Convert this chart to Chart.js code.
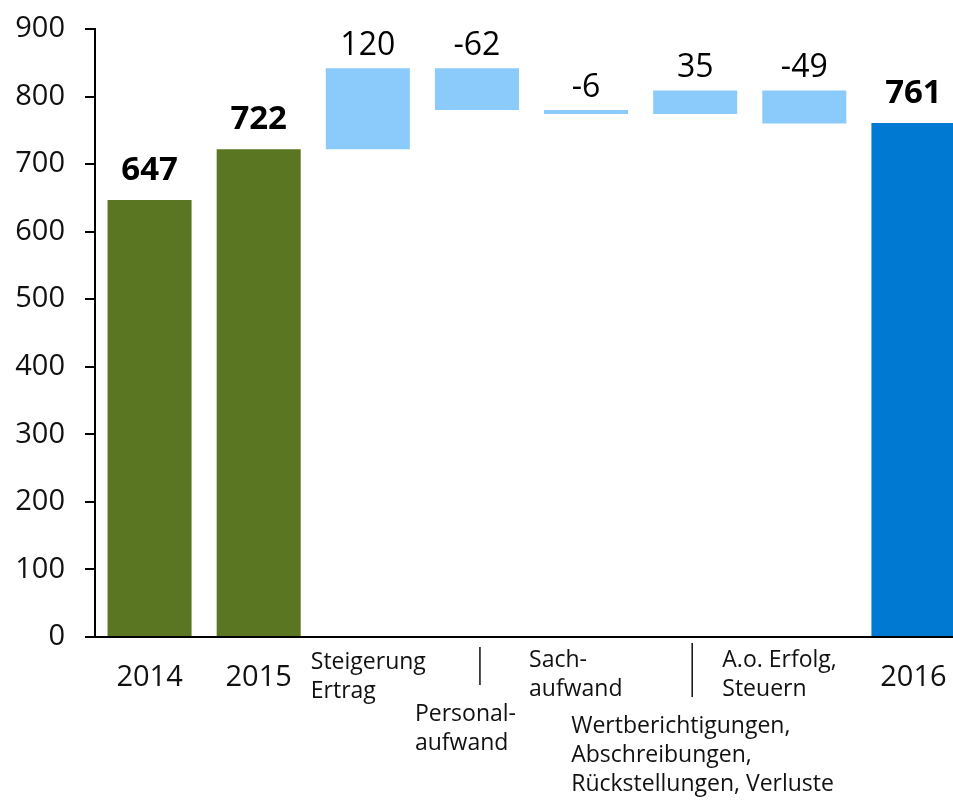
<!DOCTYPE html>
<html lang="de">
<head>
    <meta charset="UTF-8">
    <title>Erfolgsentwicklung</title>
    <script src="https://cdn.jsdelivr.net/npm/chart.js"></script>
    <style>
        body { margin: 0; background: #fff; }
        #wrap { width: 953px; height: 801px; overflow: hidden; }
    </style>
</head>
<body>
    <div id="wrap"><canvas id="waterfall" width="968" height="801"></canvas></div>
    <script>
        const categories = [
            ['2014'],
            ['2015'],
            ['Steigerung', 'Ertrag'],
            ['Personal-', 'aufwand'],
            ['Sach-', 'aufwand'],
            ['Wertberichtigungen,', 'Abschreibungen,', 'Rückstellungen, Verluste'],
            ['A.o. Erfolg,', 'Steuern'],
            ['2016']
        ];
        const barStart = [0, 0, 722, 780, 774, 774, 760, 0];
        const barEnd = [647, 722, 842, 842, 780, 809, 809, 761];
        const valueLabels = ['647', '722', '120', '-62', '-6', '35', '-49', '761'];
        const yTicks = [0, 100, 200, 300, 400, 500, 600, 700, 800, 900];

        const FONT = '"Open Sans", "Noto Sans", sans-serif';
        const colors = barEnd.map((v, i) => i < 2 ? '#5b7623' : (i === 7 ? '#0079d3' : '#8acbfb'));

        // value labels above bars and the hand placed category labels
        const labelPlugin = {
            id: 'labels',
            afterDraw(chart) {
                const ctx = chart.ctx;
                const x = chart.scales.x;
                const y = chart.scales.y;
                ctx.save();
                ctx.fillStyle = '#000';
                ctx.textAlign = 'center';
                ctx.textBaseline = 'alphabetic';
                valueLabels.forEach((txt, i) => {
                    const bold = i < 2 || i === 7;
                    const top = y.getPixelForValue(Math.max(barStart[i], barEnd[i]));
                    ctx.font = (bold ? 'bold 33px ' : '32px ') + FONT;
                    ctx.fillText(txt, x.getPixelForValue(i), top - (bold ? 20 : 13));
                });

                const cx = i => x.getPixelForValue(i);
                ctx.fillStyle = '#111';
                // years
                ctx.font = '29px ' + FONT;
                [0, 1, 7].forEach(i => ctx.fillText(categories[i][0], cx(i), 686));
                // cost items, left aligned
                ctx.font = '23px ' + FONT;
                ctx.textAlign = 'left';
                const place = [
                    [2, -57, 669],
                    [3, -62, 721],
                    [4, -57, 667],
                    [5, -124, 733],
                    [6, -82, 667]
                ];
                place.forEach(([i, dx, y0]) => {
                    categories[i].forEach((line, k) => ctx.fillText(line, cx(i) + dx, y0 + k * 29));
                });
                // leader lines
                ctx.strokeStyle = '#111';
                ctx.lineWidth = 1.5;
                ctx.beginPath();
                ctx.moveTo(cx(3) + 3, 647);
                ctx.lineTo(cx(3) + 3, 685);
                ctx.moveTo(cx(5) - 3, 643);
                ctx.lineTo(cx(5) - 3, 697);
                ctx.stroke();
                ctx.restore();
            }
        };

        new Chart(document.getElementById('waterfall'), {
            type: 'bar',
            data: {
                labels: categories,
                datasets: [{
                    data: barStart.map((s, i) => [s, barEnd[i]]),
                    backgroundColor: colors,
                    borderWidth: 0,
                    categoryPercentage: 1,
                    barPercentage: 0.77
                }]
            },
            options: {
                responsive: false,
                animation: false,
                layout: { padding: { top: 29, left: 0, right: 0, bottom: 0 } },
                plugins: {
                    legend: { display: false },
                    tooltip: { enabled: false }
                },
                scales: {
                    x: {
                        grid: { display: false },
                        ticks: { display: false },
                        border: { display: true, color: '#000', width: 2 },
                        afterFit: s => { s.height = 164; }
                    },
                    y: {
                        min: 0,
                        max: 900,
                        afterBuildTicks: s => { s.ticks = yTicks.map(v => ({ value: v })); },
                        afterFit: s => {
                            s.width = 95;
                            s.paddingTop = 0;
                            s.paddingBottom = 0;
                        },
                        grid: {
                            drawOnChartArea: false,
                            drawTicks: true,
                            tickLength: 10,
                            color: '#000',
                            lineWidth: 2
                        },
                        border: { display: true, color: '#000', width: 2 },
                        ticks: {
                            padding: 20,
                            color: '#111',
                            font: { family: FONT, size: 29 }
                        }
                    }
                }
            },
            plugins: [labelPlugin]
        });
    </script>
</body>
</html>
